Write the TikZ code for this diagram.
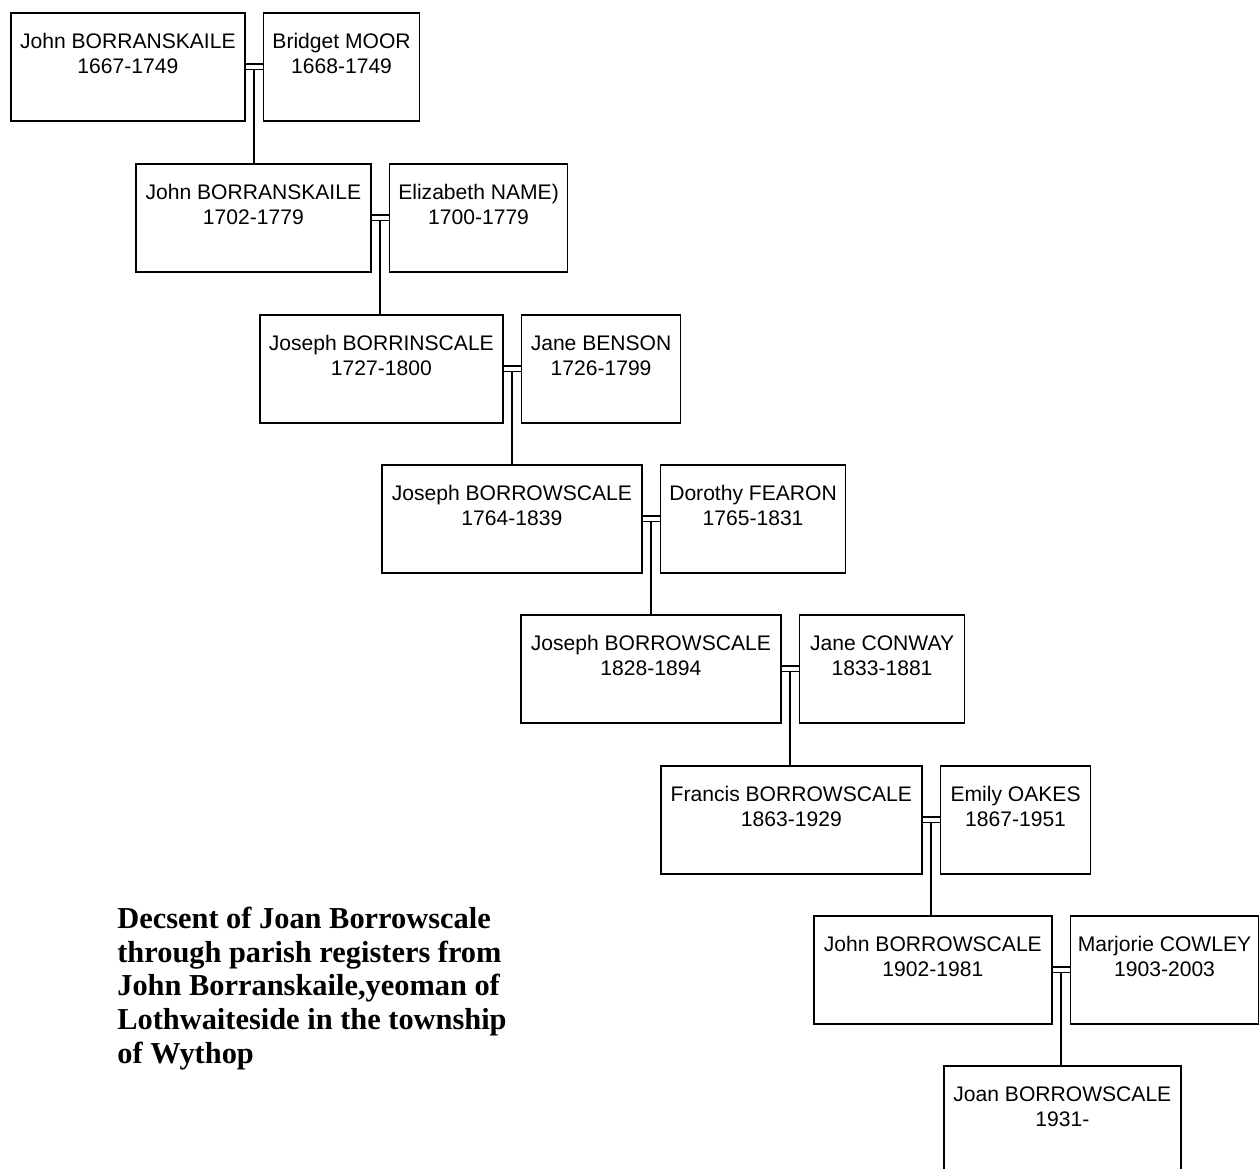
\documentclass[tikz,border=0pt]{standalone}
\usepackage{fontspec}
\usepackage{tikz}
\usetikzlibrary{calc,positioning}
\newfontfamily\psans{Liberation Sans}
\newfontfamily\pserif{Liberation Serif}

\begin{document}
\begin{tikzpicture}[
  x=0.02cm, y=-0.02cm,
  person/.style={draw, line width=1pt, anchor=north west, minimum height=2.16cm, inner sep=0pt,
    align=center, text height=0.81cm, text depth=0.53cm, font=\psans\fontsize{12}{14.2}\selectfont},
  wed/.style={double, double distance=2.4pt, line width=0.8pt}
]
  \useasboundingbox (0, 0) rectangle (1259, 1169);

  % Couples, one generation per row
  \foreach \i/\px/\py/\wa/\wb/\na/\da/\nb/\db in {
    1/10/12/4.68/3.12/John BORRANSKAILE/1667-1749/Bridget MOOR/1668-1749,
    2/135/163/4.70/3.56/John BORRANSKAILE/1702-1779/Elizabeth NAME)/1700-1779,
    3/259/314/4.86/3.18/Joseph BORRINSCALE/1727-1800/Jane BENSON/1726-1799,
    4/381/464/5.20/3.70/Joseph BORROWSCALE/1764-1839/Dorothy FEARON/1765-1831,
    5/520/614/5.20/3.30/Joseph BORROWSCALE/1828-1894/Jane CONWAY/1833-1881,
    6/660/765/5.22/3.00/Francis BORROWSCALE/1863-1929/Emily OAKES/1867-1951,
    7/813/915/4.76/3.76/John BORROWSCALE/1902-1981/Marjorie COWLEY/1903-2003
  } {
    \node[person, minimum width=\wa cm] (a\i) at (\px, \py) {\na\\\da};
    \node[person, minimum width=\wb cm] (b\i) at ([xshift=0.34cm] a\i.north east) {\nb\\\db};
  }

  % Last generation
  \node[person, minimum width=4.74cm] (a8) at (943, 1065) {Joan BORROWSCALE\\1931-};

  % Marriages and descent lines
  \foreach \i [evaluate=\i as \j using int(\i+1)] in {1,...,7} {
    \path (a\i.east) -- (b\i.west) coordinate[midway] (m\i);
    \draw[line width=1pt] (m\i) -- (m\i |- a\j.north);
    \draw[wed] (a\i.east) -- (b\i.west);
  }

  % Caption
  \node[font=\pserif\bfseries\fontsize{17.3}{19.1}\selectfont, align=left, anchor=base west, inner sep=0pt] (caption)
    at (117, 1063) {Decsent of Joan Borrowscale\\through parish registers from\\John Borranskaile,yeoman of\\Lothwaiteside in the township\\of Wythop};

\end{tikzpicture}
\end{document}
